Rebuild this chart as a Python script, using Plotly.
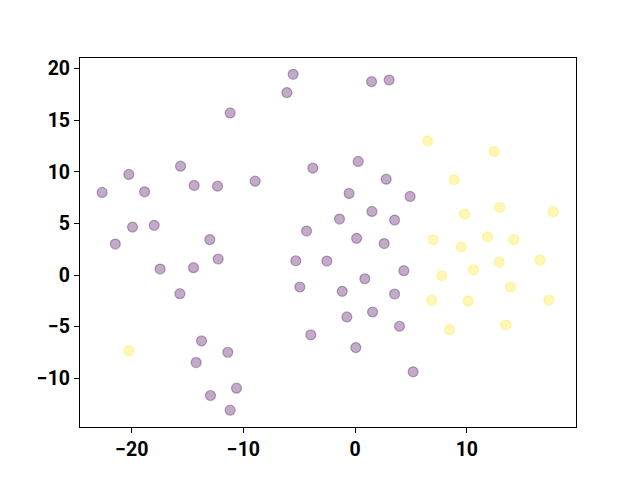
import plotly.graph_objects as go

# Class 0 (purple) points
x0 = [-5.55, -6.11, -11.19, -15.63, -3.79, -20.26, -22.65, -18.85, -14.41, -12.32,
      -8.95, -19.93, -17.99, -4.35, -21.47, -13.01, -17.46, -14.47, -12.26, -5.31,
      -2.53, -4.95, -15.69, -13.75, -11.40, -14.23, -10.62, -12.95, -11.19, -3.97,
      1.47, 3.04, 0.27, 2.78, -0.54, 4.92, 1.50, -1.40, 3.53, 0.13,
      2.60, 4.36, 0.87, -1.16, 3.53, -0.74, 1.56, 3.97, 0.06, 5.19]
y0 = [19.44, 17.67, 15.70, 10.54, 10.35, 9.74, 8.00, 8.06, 8.68, 8.61,
      9.09, 4.64, 4.81, 4.26, 3.00, 3.43, 0.58, 0.71, 1.55, 1.38,
      1.35, -1.16, -1.81, -6.38, -7.48, -8.48, -10.96, -11.67, -13.09, -5.80,
      18.73, 18.89, 11.00, 9.28, 7.90, 7.61, 6.16, 5.42, 5.32, 3.55,
      3.05, 0.42, -0.36, -1.58, -1.84, -4.06, -3.58, -4.96, -7.03, -9.38]

# Class 1 (yellow) points
x1 = [-20.23, 6.48, 12.44, 8.86, 12.95, 9.79, 17.73, 6.98, 11.85, 14.21,
      9.49, 12.89, 16.56, 7.76, 10.60, 13.91, 6.87, 10.12, 17.34, 8.45, 13.49]
y1 = [-7.32, 12.99, 11.96, 9.22, 6.55, 5.90, 6.12, 3.41, 3.70, 3.45,
      2.71, 1.26, 1.45, -0.07, 0.51, -1.16, -2.45, -2.51, -2.42, -5.29, -4.84]

x_ticks = [-20, -10, 0, 10]
y_ticks = [-10, -5, 0, 5, 10, 15, 20]

purple = "rgba(68,1,84,0.33)"
yellow = "rgba(253,231,37,0.33)"

fig = go.Figure()
fig.add_trace(go.Scatter(x=x0, y=y0, mode="markers",
                         marker=dict(size=10, color=purple, line=dict(color=purple, width=1.2))))
fig.add_trace(go.Scatter(x=x1, y=y1, mode="markers",
                         marker=dict(size=10, color=yellow, line=dict(color=yellow, width=1.2))))

axis_common = dict(showgrid=False, zeroline=False, showline=True, linecolor="black",
                   linewidth=1.1, mirror=True, ticks="outside", ticklen=5, tickwidth=1.1,
                   tickcolor="black",
                   tickfont=dict(family="Roboto", size=19.5, color="black", weight="bold"))

# page body has an 8px margin, so the figure is shrunk and offset accordingly
fig.update_layout(
    width=632, height=472,
    margin=dict(l=72, r=64, t=50, b=53),
    paper_bgcolor="white", plot_bgcolor="white",
    showlegend=False,
    xaxis=dict(range=[-24.63, 19.77], tickvals=x_ticks, **axis_common),
    yaxis=dict(range=[-14.72, 21.02], tickvals=y_ticks, **axis_common),
)

fig.write_html("out.html")
